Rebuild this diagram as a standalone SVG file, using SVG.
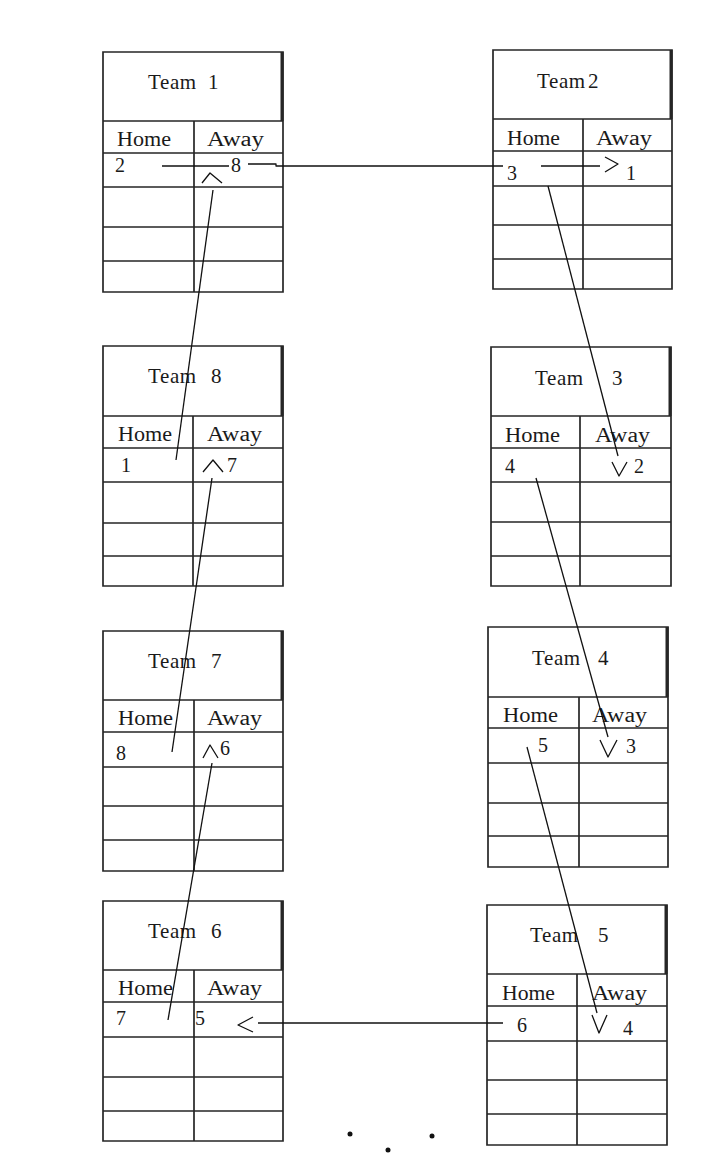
<svg xmlns="http://www.w3.org/2000/svg" width="706" height="1174" viewBox="0 0 706 1174">
<style>
.grid{fill:none;stroke:#262626;stroke-width:1.7}
.thick{fill:none;stroke:#262626;stroke-width:3}
.t{font-family:"Liberation Serif","Times New Roman",serif;font-size:21px;fill:#1a1a1a;letter-spacing:0.6px}
.h{font-family:"Liberation Serif","Times New Roman",serif;font-size:20px;fill:#1a1a1a}
.v{font-family:"Liberation Serif","Times New Roman",serif;font-size:20px;fill:#1a1a1a}
.cn{fill:none;stroke:#111;stroke-width:1.3;stroke-linejoin:round}
</style>
<rect width="706" height="1174" fill="#fff"/>

<g id="team1">
<path class="grid" d="M103 52H283V292H103Z M103 121H283 M103 153H283 M103 187H283 M103 227H283 M103 261H283 M194 121V292"/>
<path class="thick" d="M282 52V121"/>
<text class="t" y="89"><tspan x="148">Team</tspan><tspan x="208">1</tspan></text>
<text class="h" x="117" y="146" textLength="54" lengthAdjust="spacingAndGlyphs">Home</text>
<text class="h" x="207" y="146" textLength="57" lengthAdjust="spacingAndGlyphs">Away</text>
<text class="v" x="115" y="172">2</text>
<text class="v" x="231" y="172">8</text>
</g>

<g id="team2">
<path class="grid" d="M493 50H672V289H493Z M493 119H672 M493 151H672 M493 186H672 M493 225H672 M493 259H672 M583 119V289"/>
<path class="thick" d="M671 50V119"/>
<text class="t" y="88"><tspan x="537">Team</tspan><tspan x="588">2</tspan></text>
<text class="h" x="507" y="145" textLength="53" lengthAdjust="spacingAndGlyphs">Home</text>
<text class="h" x="596" y="145" textLength="56" lengthAdjust="spacingAndGlyphs">Away</text>
<text class="v" x="507" y="180">3</text>
<text class="v" x="626" y="180">1</text>
</g>

<g id="team8">
<path class="grid" d="M103 346H283V586H103Z M103 416H283 M103 448H283 M103 482H283 M103 523H283 M103 556H283 M193 416V586"/>
<path class="thick" d="M282 346V416"/>
<text class="t" y="383"><tspan x="148">Team</tspan><tspan x="211">8</tspan></text>
<text class="h" x="118" y="441" textLength="54" lengthAdjust="spacingAndGlyphs">Home</text>
<text class="h" x="207" y="441" textLength="55" lengthAdjust="spacingAndGlyphs">Away</text>
<text class="v" x="121" y="472">1</text>
<text class="v" x="227" y="472">7</text>
</g>

<g id="team3">
<path class="grid" d="M491 347H671V586H491Z M491 416H671 M491 448H671 M491 482H671 M491 522H671 M491 556H671 M580 416V586"/>
<path class="thick" d="M670 347V416"/>
<text class="t" y="385"><tspan x="535">Team</tspan><tspan x="612">3</tspan></text>
<text class="h" x="505" y="442" textLength="55" lengthAdjust="spacingAndGlyphs">Home</text>
<text class="h" x="595" y="442" textLength="55" lengthAdjust="spacingAndGlyphs">Away</text>
<text class="v" x="505" y="473">4</text>
<text class="v" x="634" y="473">2</text>
</g>

<g id="team7">
<path class="grid" d="M103 631H283V871H103Z M103 700H283 M103 732H283 M103 767H283 M103 806H283 M103 840H283 M194 700V871"/>
<path class="thick" d="M282 631V700"/>
<text class="t" y="668"><tspan x="148">Team</tspan><tspan x="211">7</tspan></text>
<text class="h" x="118" y="725" textLength="55" lengthAdjust="spacingAndGlyphs">Home</text>
<text class="h" x="207" y="725" textLength="55" lengthAdjust="spacingAndGlyphs">Away</text>
<text class="v" x="116" y="760">8</text>
<text class="v" x="220" y="755">6</text>
</g>

<g id="team4">
<path class="grid" d="M488 627H668V867H488Z M488 697H668 M488 728H668 M488 763H668 M488 803H668 M488 836H668 M579 697V867"/>
<path class="thick" d="M667 627V697"/>
<text class="t" y="665"><tspan x="532">Team</tspan><tspan x="598">4</tspan></text>
<text class="h" x="503" y="722" textLength="55" lengthAdjust="spacingAndGlyphs">Home</text>
<text class="h" x="592" y="722" textLength="55" lengthAdjust="spacingAndGlyphs">Away</text>
<text class="v" x="538" y="752">5</text>
<text class="v" x="626" y="753">3</text>
</g>

<g id="team6">
<path class="grid" d="M103 901H283V1141H103Z M103 970H283 M103 1002H283 M103 1037H283 M103 1077H283 M103 1111H283 M194 970V1141"/>
<path class="thick" d="M282 901V970"/>
<text class="t" y="938"><tspan x="148">Team</tspan><tspan x="211">6</tspan></text>
<text class="h" x="118" y="995" textLength="55" lengthAdjust="spacingAndGlyphs">Home</text>
<text class="h" x="207" y="995" textLength="55" lengthAdjust="spacingAndGlyphs">Away</text>
<text class="v" x="116" y="1025">7</text>
<text class="v" x="195" y="1025">5</text>
</g>

<g id="team5">
<path class="grid" d="M487 905H667V1145H487Z M487 974H667 M487 1006H667 M487 1041H667 M487 1080H667 M487 1114H667 M577 974V1145"/>
<path class="thick" d="M666 905V974"/>
<text class="t" y="942"><tspan x="530">Team</tspan><tspan x="598">5</tspan></text>
<text class="h" x="502" y="1000" textLength="53" lengthAdjust="spacingAndGlyphs">Home</text>
<text class="h" x="592" y="1000" textLength="55" lengthAdjust="spacingAndGlyphs">Away</text>
<text class="v" x="517" y="1032">6</text>
<text class="v" x="623" y="1035">4</text>
</g>

<g id="connectors">
<path class="cn" d="M162 166H229"/>
<path class="cn" d="M248 164H276V166H503"/>
<path class="cn" d="M541 166H600"/>
<path class="cn" d="M605 157L618 164L605 172"/>
<path class="cn" d="M548 186L618 456"/>
<path class="cn" d="M612 462L619 476L627 462"/>
<path class="cn" d="M536 478L608 737"/>
<path class="cn" d="M600 740L608 757L617 740"/>
<path class="cn" d="M527 747L597 1013"/>
<path class="cn" d="M592 1015L599 1033L607 1015"/>
<path class="cn" d="M503 1023H258"/>
<path class="cn" d="M253 1017L238 1025L253 1032"/>
<path class="cn" d="M168 1020L212 763"/>
<path class="cn" d="M203 758L210 745L218 758"/>
<path class="cn" d="M172 752L212 478"/>
<path class="cn" d="M203 472L213 460L223 472"/>
<path class="cn" d="M176 460L213 190"/>
<path class="cn" d="M202 183L210 173L222 183"/>
</g>

<g id="ellipsis" fill="#111">
<circle cx="350" cy="1134" r="2.5"/>
<circle cx="388" cy="1150" r="2.5"/>
<circle cx="432" cy="1136" r="2.5"/>
</g>
</svg>
